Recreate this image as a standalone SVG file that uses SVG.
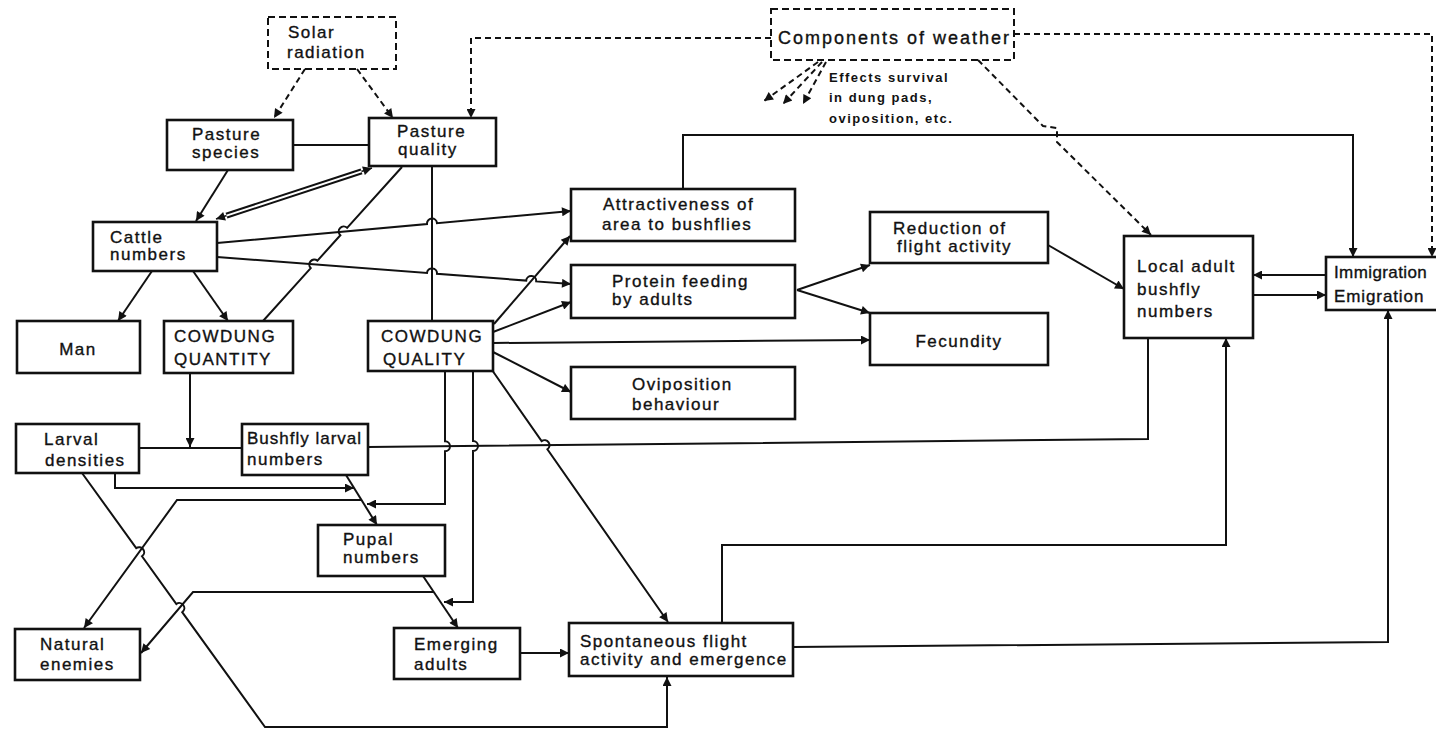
<svg xmlns="http://www.w3.org/2000/svg" width="1436" height="729" viewBox="0 0 1436 729">
<style>
.box{fill:#fff;stroke:#111;stroke-width:2.6}
.dbox{fill:#fff;stroke:#111;stroke-width:2;stroke-dasharray:7 4}
.t{font-family:"Liberation Sans",Arial,sans-serif;font-size:17px;letter-spacing:1.5px;fill:#111;stroke:#111;stroke-width:0.35}
.c{fill:none;stroke:#111;stroke-width:2}
.a{fill:none;stroke:#111;stroke-width:2;marker-end:url(#ah)}
.d{fill:none;stroke:#111;stroke-width:2;stroke-dasharray:6 4}
.da{fill:none;stroke:#111;stroke-width:2;stroke-dasharray:6 4;marker-end:url(#ah)}
.s{font-family:"Liberation Sans",Arial,sans-serif;font-size:13px;font-weight:bold;letter-spacing:1.5px;fill:#111}
</style>
<defs>
<marker id="ah" viewBox="0 0 10 10" refX="10" refY="5" markerWidth="12" markerHeight="9" orient="auto-start-reverse" markerUnits="userSpaceOnUse"><path d="M0,0 L10,5 L0,10 z" fill="#111"/></marker>
</defs>
<rect width="1436" height="729" fill="#fff"/>

<g id="solar"><rect class="dbox" x="268" y="17" width="128" height="52"/><text class="t" x="288" y="38">Solar</text><text class="t" x="287" y="58">radiation</text></g>
<g id="weather"><rect class="dbox" x="771" y="9" width="243" height="51"/><text class="t" x="778" y="44" style="font-size:18px;letter-spacing:2px">Components of weather</text></g>
<g id="pasture-species"><rect class="box" x="167" y="120" width="126" height="50"/><text class="t" x="192" y="140">Pasture</text><text class="t" x="192" y="158">species</text></g>
<g id="pasture-quality"><rect class="box" x="369" y="118" width="127" height="48"/><text class="t" x="397" y="137">Pasture</text><text class="t" x="398" y="155">quality</text></g>
<g id="cattle"><rect class="box" x="93" y="222" width="124" height="49"/><text class="t" x="110" y="243">Cattle</text><text class="t" x="110" y="260">numbers</text></g>
<g id="man"><rect class="box" x="17" y="321" width="123" height="52"/><text class="t" x="78" y="355" text-anchor="middle">Man</text></g>
<g id="cowdung-quantity"><rect class="box" x="164" y="321" width="129" height="52"/><text class="t" x="174" y="342">COWDUNG</text><text class="t" x="174" y="365">QUANTITY</text></g>
<g id="cowdung-quality"><rect class="box" x="368" y="321" width="125" height="50"/><text class="t" x="381" y="342">COWDUNG</text><text class="t" x="383" y="365">QUALITY</text></g>
<g id="larval-densities"><rect class="box" x="16" y="424" width="123" height="49"/><text class="t" x="44" y="445">Larval</text><text class="t" x="45" y="466">densities</text></g>
<g id="bushfly-larval"><rect class="box" x="242" y="424" width="126" height="51"/><text class="t" x="247" y="444" style="letter-spacing:1px">Bushfly larval</text><text class="t" x="247" y="465">numbers</text></g>
<g id="pupal"><rect class="box" x="318" y="525" width="127" height="51"/><text class="t" x="343" y="545">Pupal</text><text class="t" x="343" y="563">numbers</text></g>
<g id="natural-enemies"><rect class="box" x="15" y="629" width="125" height="51"/><text class="t" x="40" y="650">Natural</text><text class="t" x="40" y="670">enemies</text></g>
<g id="emerging"><rect class="box" x="394" y="628" width="126" height="51"/><text class="t" x="414" y="650">Emerging</text><text class="t" x="414" y="670">adults</text></g>
<g id="spontaneous"><rect class="box" x="569" y="623" width="224" height="53"/><text class="t" x="580" y="647">Spontaneous flight</text><text class="t" x="580" y="665">activity and emergence</text></g>
<g id="attractiveness"><rect class="box" x="571" y="189" width="224" height="52"/><text class="t" x="603" y="210">Attractiveness of</text><text class="t" x="602" y="230">area to bushflies</text></g>
<g id="protein"><rect class="box" x="571" y="265" width="224" height="53"/><text class="t" x="612" y="287">Protein feeding</text><text class="t" x="612" y="305">by adults</text></g>
<g id="oviposition"><rect class="box" x="571" y="367" width="224" height="52"/><text class="t" x="632" y="390">Oviposition</text><text class="t" x="632" y="410">behaviour</text></g>
<g id="reduction"><rect class="box" x="870" y="212" width="178" height="51"/><text class="t" x="893" y="234">Reduction of</text><text class="t" x="897" y="252">flight activity</text></g>
<g id="fecundity"><rect class="box" x="870" y="313" width="178" height="52"/><text class="t" x="959" y="347" text-anchor="middle">Fecundity</text></g>
<g id="local-adult"><rect class="box" x="1124" y="236" width="129" height="102"/><text class="t" x="1137" y="272">Local adult</text><text class="t" x="1137" y="295">bushfly</text><text class="t" x="1137" y="317">numbers</text></g>
<g id="immigration"><rect class="box" x="1326" y="257" width="130" height="53"/><text class="t" x="1334" y="278" style="letter-spacing:0.4px">Immigration</text><text class="t" x="1334" y="302" style="letter-spacing:0.9px">Emigration</text></g>

<g id="connectors">
<path class="da" d="M305,69 L274,118"/>
<path class="da" d="M357,69 L393,118"/>
<path class="da" d="M771,38 H471 V118"/>
<path class="da" d="M1014,34 H1432 V257"/>
<path class="da" d="M978,60 L1043,126 L1057,128 L1057,142 L1151,235"/>
<path class="da" d="M818,62 L764,101"/>
<path class="da" d="M822,62 L783,104"/>
<path class="da" d="M826,62 L803,104"/>
<text class="s" x="829" y="82">Effects survival</text>
<text class="s" x="829" y="102">in dung pads,</text>
<text class="s" x="829" y="123">oviposition, etc.</text>

<path class="c" d="M293,145 H369"/>
<path class="a" d="M228,170 L196,221"/>
<path d="M216,219 L372,168" stroke="#111" stroke-width="1.5" fill="none" marker-start="url(#ah)" marker-end="url(#ah)"/>
<path d="M226.5,215.6 L361.5,171.4" stroke="#111" stroke-width="6" fill="none"/>
<path d="M226.5,215.6 L361.5,171.4" stroke="#fff" stroke-width="2" fill="none"/>
<path class="c" d="M402,167 L347.1,227.8 A5,5 0 0 0 340.35,235.2 L317.45,260.7 A5,5 0 0 0 310.75,268.1 L263,321"/>
<path class="c" d="M432,167 V321"/>
<path class="a" d="M217,243 L427,224.05 A5,5 0 0 1 437,223.15 L571,211"/>
<path class="a" d="M217,257 L427,273 A5,5 0 0 1 437,273.8 L526.2,280.6 A5,5 0 0 1 536.2,281.4 L571,284"/>
<path class="a" d="M152,271 L118,321"/>
<path class="a" d="M193,271 L228,321"/>
<path class="a" d="M494,324 L570,236"/>
<path class="a" d="M493,332 L571,302"/>
<path class="a" d="M493,343 L870,340"/>
<path class="a" d="M493,352 L571,392"/>
<path class="a" d="M492,370 L541.6,441.1 A5,5 0 0 1 547.4,449.3 L668,622"/>
<path class="a" d="M797,290 L870,265"/>
<path class="a" d="M797,290 L870,313"/>
<path class="a" d="M1048,245 L1124,289"/>
<path class="a" d="M683,189 V135 H1353 V257"/>
<path class="a" d="M1326,275 H1253"/>
<path class="a" d="M1253,295 H1326"/>
<path class="c" d="M139,448 H242"/>
<path class="c" d="M368,447 L1148,439 V338"/>
<path class="a" d="M190,373 V447"/>
<path class="a" d="M445,371 V441.2 A5,5 0 0 1 445,451.2 V504 H367"/>
<path class="a" d="M473,371 V440.9 A5,5 0 0 1 473,450.9 V602 H444"/>
<path class="a" d="M115,473 V488 H354"/>
<path class="a" d="M346,475 L377,525"/>
<path class="a" d="M423,576 L458,628"/>
<path class="a" d="M520,653 H569"/>
<path class="a" d="M434,592 H193 L141,653"/>
<path class="a" d="M361,500 H177 L84,628"/>
<path class="a" d="M82,473 L136.2,548.1 A5,5 0 0 1 142,556.3 L176.4,604 A5,5 0 0 1 182.2,612.2 L265,727 H667 V677"/>
<path class="a" d="M722,623 V545 H1226 V338"/>
<path class="a" d="M793,647 L1388,642 V310"/>
</g>
</svg>
